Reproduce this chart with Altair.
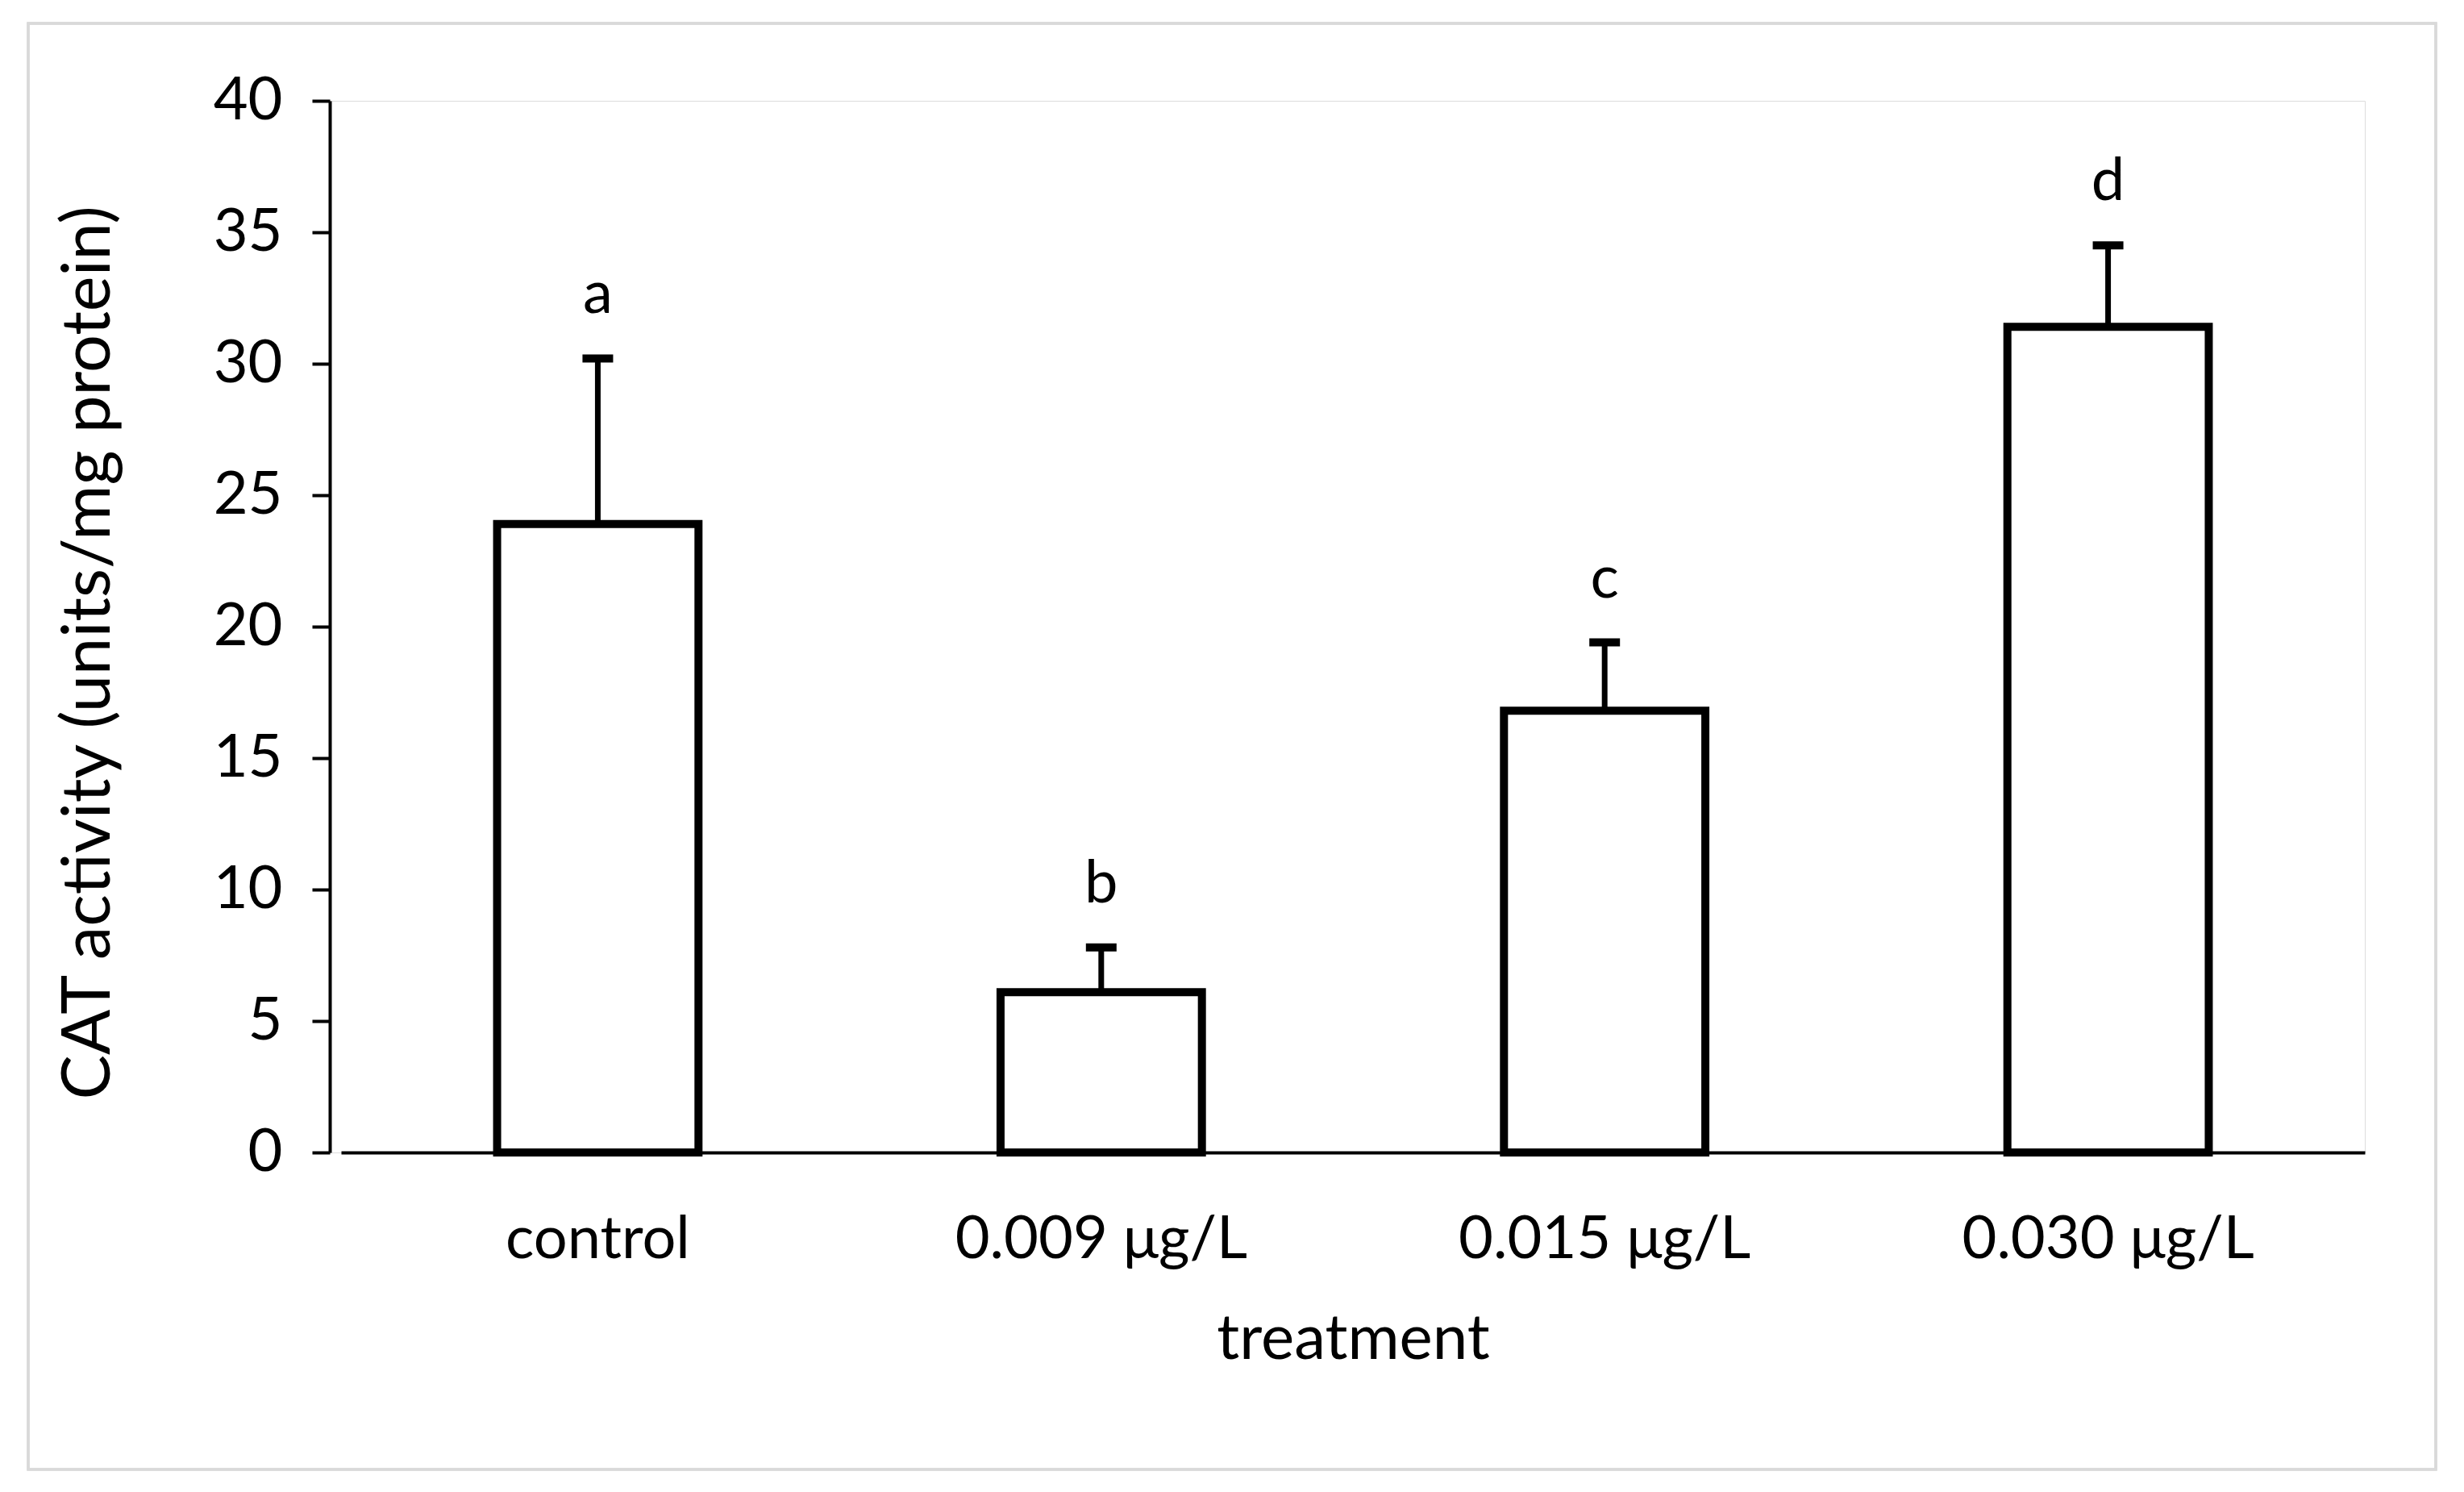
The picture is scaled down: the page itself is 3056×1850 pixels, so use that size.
import altair as alt
import pandas as pd

treatments = ["control", "0.009 μg/L", "0.015 μg/L", "0.030 μg/L"]
means = [23.9, 6.1, 16.8, 31.4]
errors = [6.3, 1.7, 2.6, 3.1]
letters = ["a", "b", "c", "d"]
y_ticks = [0, 5, 10, 15, 20, 25, 30, 35, 40]

df = pd.DataFrame({
    "treatment": treatments,
    "mean": means,
    "upper": [m + e for m, e in zip(means, errors)],
    "letter": letters,
})

FONT = "Lato"
FS = 74

x_scale = alt.Scale(paddingInner=0.6, paddingOuter=0.31, range=[14, 2524])

x_enc = alt.X(
    "treatment:N",
    sort=treatments,
    scale=x_scale,
    axis=alt.Axis(
        title="treatment",
        labelAngle=0,
        labelLimit=0,
        ticks=False,
        tickSize=0,
        domainColor="black",
        domainWidth=4,
        labelPadding=72,
        titlePadding=48,
        labelFont=FONT,
        labelFontSize=FS,
        labelColor="black",
        titleFont=FONT,
        titleFontSize=78,
        titleFontWeight="normal",
        titleColor="black",
    ),
)

y_scale = alt.Scale(domain=[0, 40], nice=False)

y_enc = alt.Y(
    "mean:Q",
    scale=y_scale,
    axis=alt.Axis(
        title="CAT activity (units/mg protein)",
        values=y_ticks,
        grid=False,
        domainColor="black",
        domainWidth=4,
        tickColor="black",
        tickWidth=4,
        tickSize=22,
        labelPadding=37,
        titlePadding=112,
        titleY=684,
        labelFont=FONT,
        labelFontSize=FS,
        labelColor="black",
        titleFont=FONT,
        titleFontSize=83,
        titleFontWeight="normal",
        titleColor="black",
    ),
)

base = alt.Chart(df)

frame = base.mark_rect(filled=False, stroke="#d9d9d9", strokeWidth=3).encode(
    x=alt.value(-374), x2=alt.value(2612), y=alt.value(-96), y2=alt.value(1697)
)

bars = base.mark_bar(fill="white", stroke="black", strokeWidth=10).encode(
    x=x_enc, y=y_enc
)

whisker = base.mark_rule(color="black", strokeWidth=7).encode(
    x=alt.X("treatment:N", sort=treatments, scale=x_scale),
    y=alt.Y("mean:Q", scale=y_scale),
    y2="upper:Q",
)

caps = base.mark_tick(color="black", size=38, thickness=10, orient="horizontal", opacity=1).encode(
    x=alt.X("treatment:N", sort=treatments, scale=x_scale),
    y=alt.Y("upper:Q", scale=y_scale),
)

labels = base.mark_text(
    font=FONT, fontSize=FS, color="black", baseline="alphabetic", dy=-56
).encode(
    x=alt.X("treatment:N", sort=treatments, scale=x_scale),
    y=alt.Y("upper:Q", scale=y_scale),
    text="letter:N",
)

chart = alt.layer(frame, bars, whisker, caps, labels).properties(
    width=2524,
    height=1304,
    padding={"left": 401, "top": 117, "right": 110, "bottom": 400},
    autosize="none",
).configure_view(strokeWidth=0, strokeOpacity=0).configure(background="white")

chart.save("out.html", embed_options={"renderer": "svg", "actions": False})
